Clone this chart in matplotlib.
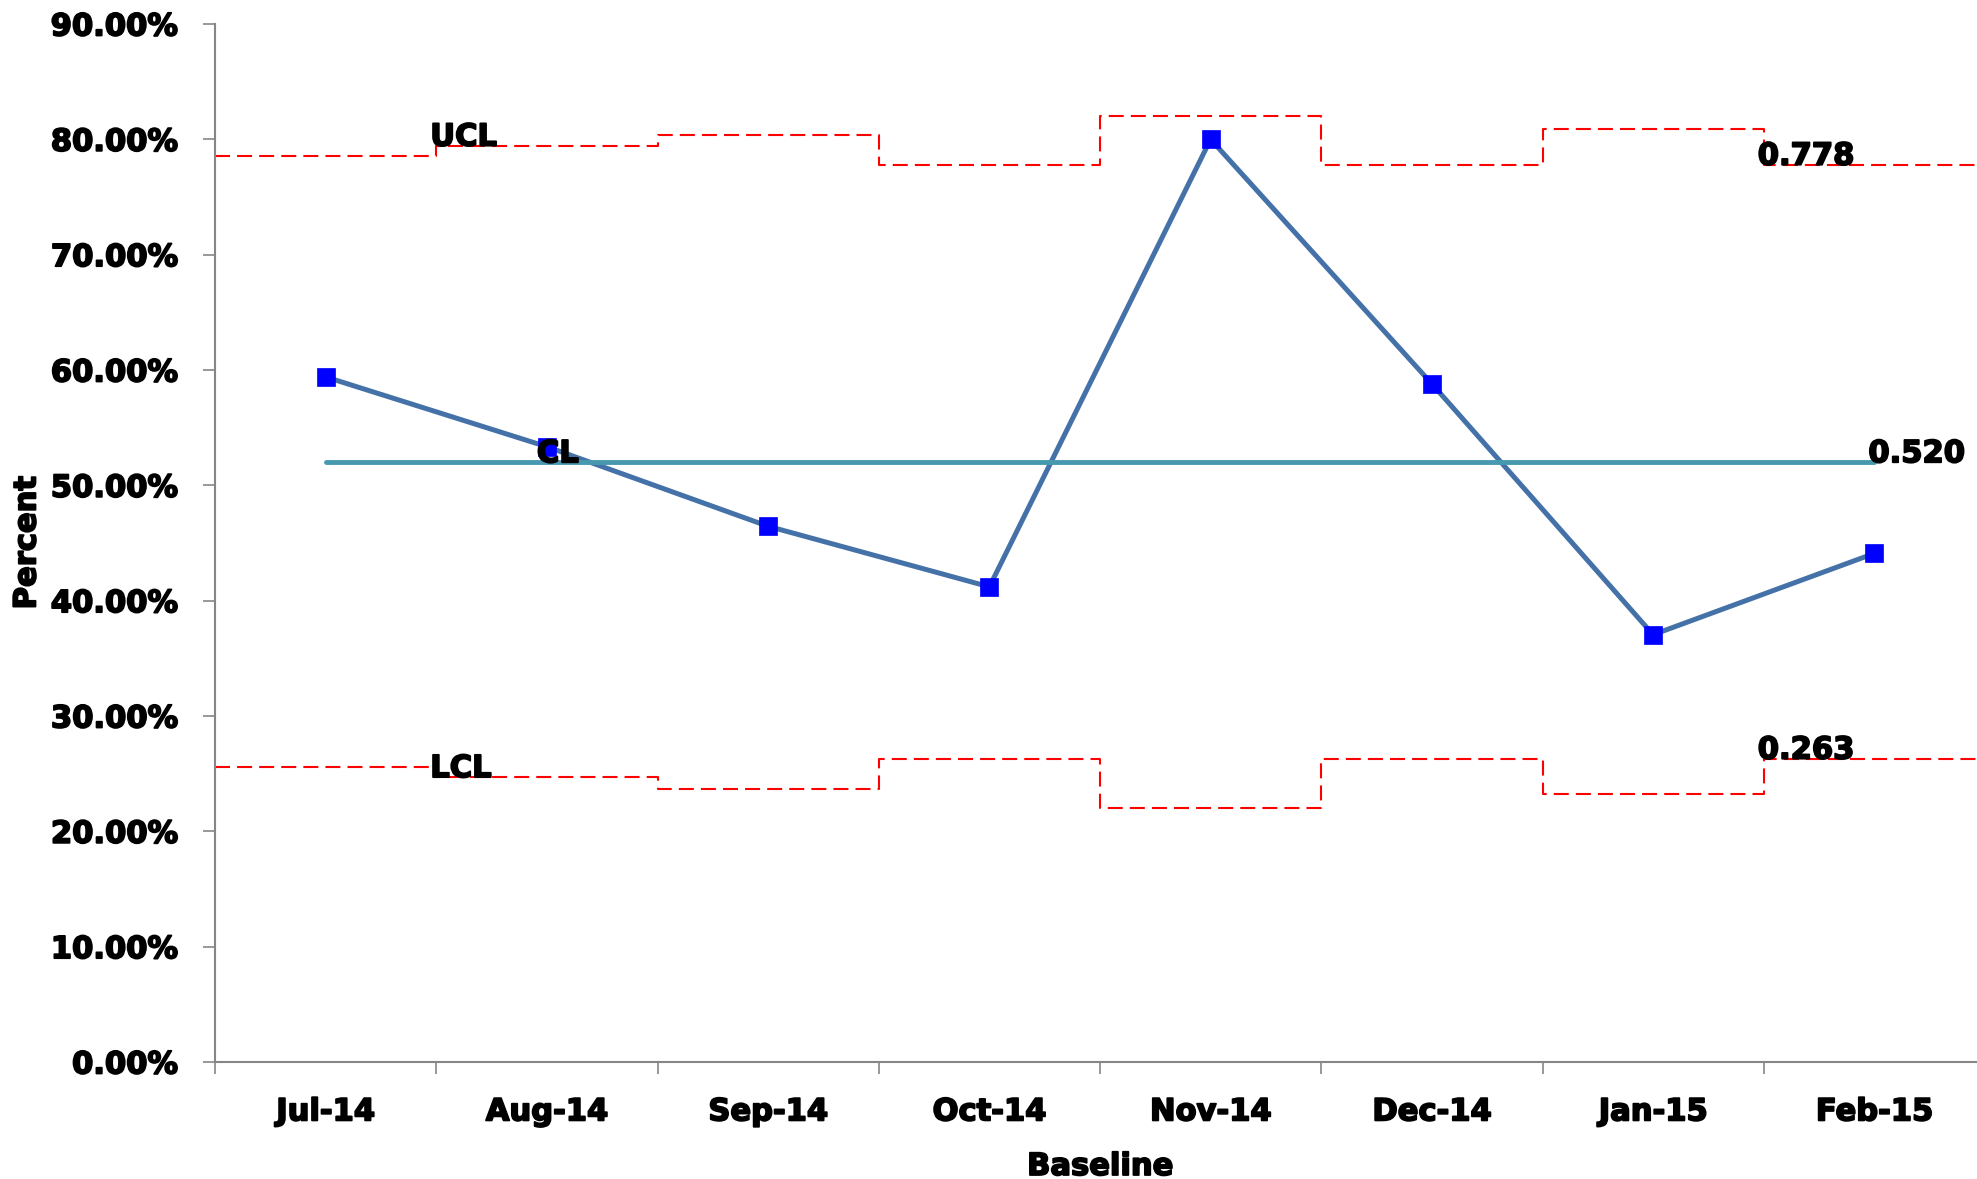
import numpy as np
import matplotlib
matplotlib.use("Agg")
import matplotlib.pyplot as plt
import matplotlib.patheffects as pe
from matplotlib.text import Text
from matplotlib.ticker import FixedLocator, FuncFormatter, NullFormatter
from matplotlib.transforms import offset_copy

# p-chart data: monthly proportion with varying control limits
months = ["Jul-14", "Aug-14", "Sep-14", "Oct-14", "Nov-14", "Dec-14", "Jan-15", "Feb-15"]
percent = [0.594, 0.5335, 0.4645, 0.412, 0.800, 0.588, 0.3705, 0.441]
ucl = [0.7858, 0.7945, 0.8037, 0.778, 0.8205, 0.778, 0.809, 0.778]
lcl = [0.2556, 0.2470, 0.2370, 0.263, 0.2206, 0.263, 0.2320, 0.263]
center = 0.520
y_ticks = [0.0, 0.1, 0.2, 0.3, 0.4, 0.5, 0.6, 0.7, 0.8, 0.9]

plt.rcParams["font.family"] = ["DejaVu Sans"]
plt.rcParams["font.weight"] = "bold"
plt.rcParams["font.size"] = 22

W, H = 1977, 1179
fig = plt.figure(figsize=(W / 100, H / 100), dpi=100)
ax = fig.add_axes([215 / W, 1 - 1062 / H, (1985 - 215) / W, (1062 - 24) / H])

x = np.arange(len(months))
edges = np.arange(len(months) + 1) - 0.5

dash = (0, (7.2, 3.4))
ax.step(edges, ucl + [ucl[-1]], where="post", color="#FF0000", lw=1.5,
        ls=dash, zorder=2)
ax.step(edges, lcl + [lcl[-1]], where="post", color="#FF0000", lw=1.5,
        ls=dash, zorder=2)

ax.plot(x, percent, color="#4472A8", lw=3.6, marker="s", markersize=13,
        markerfacecolor="#0000FF", markeredgecolor="#0000FF",
        markeredgewidth=0.5, zorder=3)
ax.plot([x[0], x[-1]], [center, center], color="#4799B0", lw=3.5,
        solid_capstyle="round", zorder=4)

def label_at(xv, yv, text, dx=-6):
    tr = offset_copy(ax.transData, fig=fig, x=dx, y=0, units="dots")
    ax.text(xv, yv, text, transform=tr, ha="left", va="baseline",
            fontsize=22, fontweight="bold", color="black", zorder=6,
            clip_on=False)

label_at(edges[1], ucl[1], "UCL")
label_at(x[1], center, "CL", dx=-10)
label_at(edges[1], lcl[1], "LCL")
label_at(edges[-2], ucl[-1], f"{ucl[-1]:.3f}")
label_at(x[-1], center, f"{center:.3f}")
label_at(edges[-2], lcl[-1], f"{lcl[-1]:.3f}")

ax.set_xlim(edges[0], edges[-1])
ax.set_ylim(0, 0.9)

ax.yaxis.set_major_locator(FixedLocator(y_ticks))
ax.yaxis.set_major_formatter(FuncFormatter(lambda v, p: f"{v * 100:.2f}%"))

ax.xaxis.set_major_locator(FixedLocator(edges))
ax.xaxis.set_major_formatter(NullFormatter())
ax.xaxis.set_minor_locator(FixedLocator(x))
ax.xaxis.set_minor_formatter(FuncFormatter(lambda v, p: months[int(round(v))]))

spine_c = "#868686"
for s in ("top", "right"):
    ax.spines[s].set_visible(False)
for s in ("left", "bottom"):
    ax.spines[s].set_color(spine_c)
    ax.spines[s].set_linewidth(1.5)

ax.tick_params(axis="y", which="major", direction="out", length=8.6,
               width=1.2, color=spine_c, pad=18, labelsize=22)
ax.tick_params(axis="x", which="major", direction="out", length=8.6,
               width=1.2, color=spine_c)
ax.tick_params(axis="x", which="minor", length=0, pad=25.5, labelsize=22)
for lab in ax.get_yticklabels() + ax.get_xticklabels(minor=True):
    lab.set_fontweight("bold")

fig.text(1100 / W, 1 - 1175 / H, "Baseline", ha="center", va="baseline",
         fontsize=22, fontweight="bold")
fig.text(41.5 / W, 1 - 543 / H, "Percent", rotation=90, ha="right",
         va="center", fontsize=22, fontweight="bold")

# heavier lettering
heavy = [pe.withStroke(linewidth=1.3, foreground="black")]
for t in fig.findobj(Text):
    t.set_path_effects(heavy)

fig.savefig("out.png", dpi=100, facecolor="white")
